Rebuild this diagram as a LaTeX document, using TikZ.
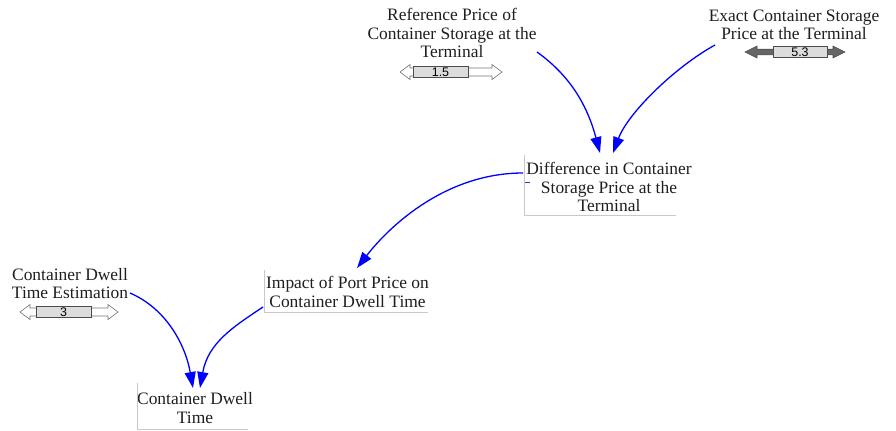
\documentclass[tikz,border=0pt]{standalone}
\usepackage{fontspec}
\setmainfont{Liberation Serif}
\newfontfamily\valfont{Liberation Sans}
\usetikzlibrary{arrows.meta,calc}
\definecolor{txt}{HTML}{1E1E1E}
\definecolor{edgegray}{HTML}{C8C8C8}
\definecolor{flowblue}{HTML}{0000FF}
\definecolor{boxfill}{HTML}{DCDCDC}
\definecolor{darkarrow}{HTML}{666666}
\tikzset{
  varname/.style={text=txt, align=center, inner sep=0pt,
    font=\fontsize{17.5}{18.5}\selectfont},
  valtext/.style={inner sep=0pt, text=black, font=\valfont\fontsize{12.5}{12.5}\selectfont},
  slarrow/.style={draw=#1, line width=0.6bp, line join=miter},
  slbox/.style={draw=black!70, fill=boxfill, line width=0.6bp},
  auxedge/.style={draw=edgegray, line width=0.8bp},
  flow/.style={draw=flowblue, line width=1.3bp,
    -{Triangle[length=16bp,width=11bp]}},
}
% name, y, tipL, boxL, boxR, tipR, value, arrow fill, arrow outline
\newcommand\myslider[9]{%
  \draw[slarrow=#9, fill=#8] (#4,#2-\shh) -- (#3+\hdl,#2-\shh) -- (#3+\hdl,#2-\hdh) -- (#3,#2)
    -- (#3+\hdl,#2+\hdh) -- (#3+\hdl,#2+\shh) -- (#4,#2+\shh);
  \draw[slarrow=#9, fill=#8] (#5,#2-\shh) -- (#6-\hdl,#2-\shh) -- (#6-\hdl,#2-\hdh) -- (#6,#2)
    -- (#6-\hdl,#2+\hdh) -- (#6-\hdl,#2+\shh) -- (#5,#2+\shh);
  \draw[slbox] (#4,#2-5.5) rectangle (#5,#2+5.5);
  \node[valtext] (#1) at ({(#4+#5)/2},#2) {#7};
}
\begin{document}
\begin{tikzpicture}[x=1bp,y=-1bp]
\useasboundingbox (0,0) rectangle (896,430);

% variable names
\node[varname] (ref) at (452,33) {Reference Price of\\Container Storage at the\\Terminal};
\node[varname] (exact) at (794,25) {Exact Container Storage\\Price at the Terminal};
\node[varname] (diff) at (609,187) {Difference in Container\\Storage Price at the\\Terminal};
\node[varname] (impact) at (347.5,292) {Impact of Port Price on\\Container Dwell Time};
\node[varname] (est) at (70,283.5) {Container Dwell\\Time Estimation};
\node[varname] (cdt) at (195,408) {Container Dwell\\Time};

% auxiliary borders
\draw[auxedge] (524,155) -- (524,215) -- (676,215);
\draw[auxedge] (264,270) -- (264,312) -- (428,312);
\draw[auxedge] (137,383) -- (137,429) -- (248,429);
\draw[draw=flowblue!60!gray, line width=0.8bp] (525,182) -- (530,182);

% sliders
\def\shh{4}\def\hdh{7.5}\def\hdl{10}
\myslider{refval}{72}{400}{413}{468}{502}{1.5}{white}{black!55}
\myslider{estval}{312}{20}{36}{91}{118}{3}{white}{black!55}
\def\shh{2.8}\def\hdh{6}\def\hdl{12}
\myslider{exactval}{52}{745}{773}{827}{845}{5.3}{darkarrow}{black!70}

% connectors
\draw[flow] ($(ref.center)+(85,19)$) .. controls +(35,25) and +(-12,-45) .. ($(diff.center)+(-9,-34)$);
\draw[flow] ($(exact.center)+(-79,20)$) .. controls +(-40,22) and +(15,-40) .. ($(diff.center)+(4,-34)$);
\draw[flow] ($(diff.center)+(-86,-14)$) .. controls +(-75,0) and +(35,-45) .. ($(impact.center)+(9.5,-24)$);
\draw[flow] ($(est.center)+(60,9.5)$) .. controls +(35,15) and +(-8,-45) .. ($(cdt.center)+(-2,-20)$);
\draw[flow] ($(impact.center)+(-84.5,15)$) .. controls +(-30,20) and +(8,-45) .. ($(cdt.center)+(5,-20)$);
\end{tikzpicture}
\end{document}
